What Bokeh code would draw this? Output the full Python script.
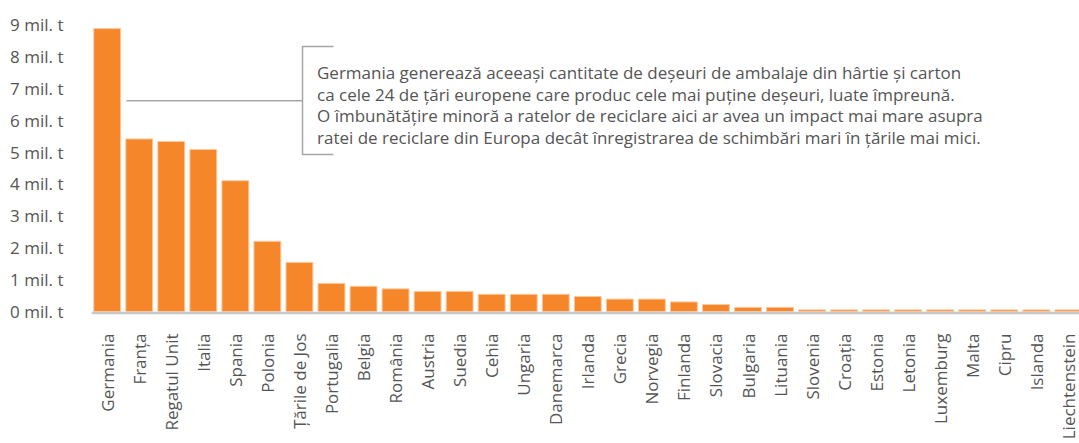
import math
from bokeh.plotting import figure
from bokeh.models import Range1d, FixedTicker, Span
from bokeh.core.properties import value
from bokeh.embed import file_html
from bokeh.resources import INLINE

countries = ["Germania", "Franța", "Regatul Unit", "Italia", "Spania", "Polonia",
             "Țările de Jos", "Portugalia", "Belgia", "România", "Austria", "Suedia",
             "Cehia", "Ungaria", "Danemarca", "Irlanda", "Grecia", "Norvegia",
             "Finlanda", "Slovacia", "Bulgaria", "Lituania", "Slovenia", "Croația",
             "Estonia", "Letonia", "Luxemburg", "Malta", "Cipru", "Islanda", "Liechtenstein"]
waste_mt = [8.87, 5.41, 5.33, 5.08, 4.10, 2.20, 1.54, 0.88, 0.79, 0.71, 0.63, 0.63,
            0.54, 0.54, 0.54, 0.47, 0.39, 0.39, 0.30, 0.22, 0.13, 0.13, 0.05, 0.05,
            0.05, 0.05, 0.05, 0.05, 0.05, 0.05, 0.05]
y_ticks = list(range(0, 10))
y_tick_labels = [f"{v} mil. t" for v in y_ticks]
note_lines = [
    "Germania generează aceeași cantitate de deșeuri de ambalaje din hârtie și carton",
    "ca cele 24 de țări europene care produc cele mai puține deșeuri, luate împreună.",
    "O îmbunătățire minoră a ratelor de reciclare aici ar avea un impact mai mare asupra",
    "ratei de reciclare din Europa decât înregistrarea de schimbări mari în țările mai mici.",
]

FONT = "Open Sans"
TXT = "#555555"
xs = list(range(len(countries)))

# frame runs from the top margin to the bottom of the canvas; category labels
# are drawn below the zero line inside it
p = figure(width=1079, height=443, output_backend="svg", toolbar_location=None,
           x_range=Range1d(-0.49, 30.346), y_range=Range1d(-4.138, 9.499),
           min_border_left=91, min_border_right=0, min_border_top=8, min_border_bottom=0)
p.outline_line_color = None
p.xgrid.visible = False
p.ygrid.visible = False
p.xaxis.visible = False
p.background_fill_color = "white"
p.border_fill_color = "white"

p.vbar(x=xs, top=waste_mt, bottom=0, width=0.84, fill_color="#F5872A",
       line_color="#FBC9A0", line_width=1)

# baseline
p.add_layout(Span(location=-0.047, dimension="width", line_color="#C8C8C8", line_width=2.5))

# category labels (rotated, reading upwards, right end under the bar)
p.text(x=xs, y=[-0.69] * len(xs), text=countries, angle=math.pi / 2,
       text_align="right", text_baseline="middle", text_font=value(FONT),
       text_font_size="17px", text_color=TXT)

# y axis
p.yaxis.ticker = FixedTicker(ticks=y_ticks)
p.yaxis.major_label_overrides = {t: l for t, l in zip(y_ticks, y_tick_labels)}
p.yaxis.axis_line_color = None
p.yaxis.major_tick_line_color = None
p.yaxis.minor_tick_line_color = None
p.yaxis.major_tick_out = 0
p.yaxis.major_tick_in = 0
p.yaxis.major_label_standoff = 28
p.yaxis.major_label_text_font = FONT
p.yaxis.major_label_text_font_size = "17px"
p.yaxis.major_label_text_color = TXT

# annotation bracket
GREY = "#A6A6A6"
p.line(x=[0.602, 6.096], y=[6.61, 6.61], line_color=GREY, line_width=1.5)
p.line(x=[7.063, 6.096, 6.096, 7.063], y=[8.307, 8.307, 4.92, 4.92], line_color=GREY, line_width=1.5)
note_y = [7.483, 6.809, 6.135, 5.461]
p.text(x=[6.548] * 4, y=note_y, text=note_lines, text_font=value(FONT),
       text_font_size="17px", text_color=TXT, text_baseline="alphabetic", text_align="left")

open("out.html", "w").write(file_html(p, INLINE))
